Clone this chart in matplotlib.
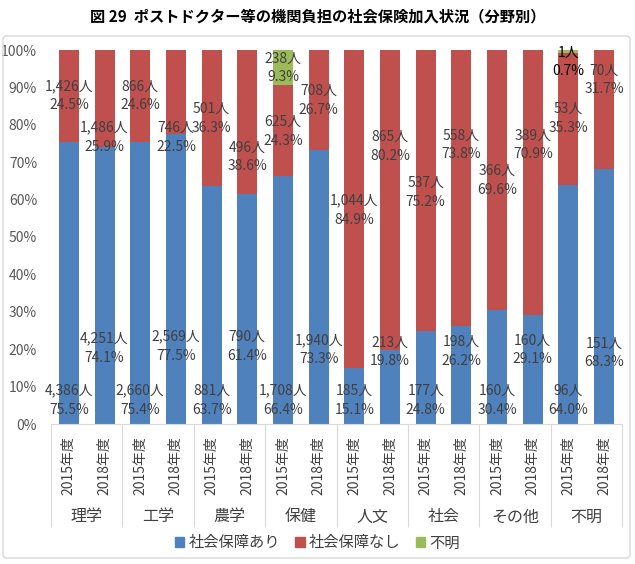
import matplotlib
matplotlib.use("Agg")
from matplotlib import pyplot as plt
from matplotlib.patches import FancyBboxPatch, Patch
import numpy as np

plt.rcParams["font.family"] = ["Noto Sans CJK JP", "DejaVu Sans"]

fields = ["理学", "工学", "農学", "保健", "人文", "社会", "その他", "不明"]
years = ["2015年度", "2018年度"]

# 社会保障あり / 社会保障なし / 不明 (percent and headcount), 2015 & 2018 per field
pct_yes = [75.5, 74.1, 75.4, 77.5, 63.7, 61.4, 66.4, 73.3, 15.1, 19.8, 24.8, 26.2, 30.4, 29.1, 64.0, 68.3]
pct_no = [24.5, 25.9, 24.6, 22.5, 36.3, 38.6, 24.3, 26.7, 84.9, 80.2, 75.2, 73.8, 69.6, 70.9, 35.3, 31.7]
pct_unk = [0, 0, 0, 0, 0, 0, 9.3, 0, 0, 0, 0, 0, 0, 0, 0.7, 0]
n_yes = [4386, 4251, 2660, 2569, 881, 790, 1708, 1940, 185, 213, 177, 198, 160, 160, 96, 151]
n_no = [1426, 1486, 866, 746, 501, 496, 625, 708, 1044, 865, 537, 558, 366, 389, 53, 70]
n_unk = [0, 0, 0, 0, 0, 0, 238, 0, 0, 0, 0, 0, 0, 0, 1, 0]

# where the data labels sit (percent axis), as placed in the original
lab_y_yes = [6.4, 20.3, 6.4, 20.8, 6.4, 20.8, 6.4, 19.8, 6.4, 19.3, 6.4, 19.5, 6.4, 19.8, 6.4, 19.0]
lab_y_no = [87.7, 76.7, 87.7, 76.7, 81.8, 71.4, 78.3, 86.6, 57.2, 74.3, 62.0, 74.6, 65.2, 74.6, 81.8, 92.0]
lab_y_unk = [0, 0, 0, 0, 0, 0, 95.2, 0, 0, 0, 0, 0, 0, 0, 96.8, 0]

c_yes = "#4F81BD"
c_no = "#C0504D"
c_unk = "#9BBB59"
txt = "#404040"

fig = plt.figure(figsize=(6.35, 5.64), dpi=100)
W, H = 635, 564
ax = fig.add_axes([51 / W, 1 - 424 / H, (622 - 51) / W, (424 - 50) / H])

x = np.arange(len(pct_yes))
bw = 0.56
bottom_no = np.array(pct_yes)
bottom_unk = bottom_no + np.array(pct_no)
ax.bar(x, pct_yes, bw, color=c_yes)
ax.bar(x, pct_no, bw, bottom=bottom_no, color=c_no)
ax.bar(x, pct_unk, bw, bottom=bottom_unk, color=c_unk)

for i in x:
    ax.text(i, lab_y_yes[i], f"{n_yes[i]:,}人\n{pct_yes[i]:.1f}%", ha="center", va="center",
            fontsize=10, color=txt, linespacing=1.45)
    ax.text(i, lab_y_no[i], f"{n_no[i]:,}人\n{pct_no[i]:.1f}%", ha="center", va="center",
            fontsize=10, color=txt, linespacing=1.45)
    if n_unk[i]:
        col = "black" if pct_unk[i] < 1 else txt
        ax.text(i, lab_y_unk[i], f"{n_unk[i]:,}人\n{pct_unk[i]:.1f}%", ha="center", va="center",
                fontsize=10, color=col, linespacing=1.45)

ax.set_xlim(-0.5, len(x) - 0.5)
ax.set_ylim(0, 100)
ax.set_yticks(np.arange(0, 101, 10))
ax.set_yticklabels([f"{v}%" for v in range(0, 101, 10)], fontsize=10, color="#595959")
ax.set_xticks(x)
ax.set_xticklabels(years * len(fields), rotation=90, fontsize=10, color=txt)
ax.tick_params(axis="y", length=0, pad=10)
ax.tick_params(axis="x", length=0, pad=9)
for s in ["top", "right", "left"]:
    ax.spines[s].set_visible(False)
ax.spines["bottom"].set_color("#D9D9D9")

# multi-level category axis
xt = ax.get_xaxis_transform()
sep_bottom = (424 - 527) / 374
ax.vlines(np.arange(-0.5, len(x), 2), sep_bottom, 0, transform=xt, colors="#D9D9D9",
          linewidth=0.8, clip_on=False)
for k, f in enumerate(fields):
    ax.text(2 * k + 0.5, (424 - 517) / 374, f, transform=xt, ha="center", va="center",
            fontsize=11.5, color=txt)

handles = [Patch(color=c_yes), Patch(color=c_no), Patch(color=c_unk)]
fig.legend(handles, ["社会保障あり", "社会保障なし", "不明"], loc="center",
           bbox_to_anchor=(0.5, (564 - 543) / H), ncol=3, frameon=False, fontsize=11,
           handlelength=0.6, handleheight=0.6, handletextpad=0.3, columnspacing=1.0,
           labelcolor=txt)

fig.patches.append(FancyBboxPatch((3 / W, 1 - 558 / H), 627 / W, 522 / H,
                                  boxstyle="round,pad=0,rounding_size=0.006",
                                  transform=fig.transFigure, facecolor="none",
                                  edgecolor="#D9D9D9", linewidth=1.0))

fig.text(0.5, 1 - 16 / H, "図 29  ポストドクター等の機関負担の社会保険加入状況（分野別）",
         ha="center", va="center", fontsize=11, fontweight="bold", color="black")

fig.savefig("out.png", dpi=100)
